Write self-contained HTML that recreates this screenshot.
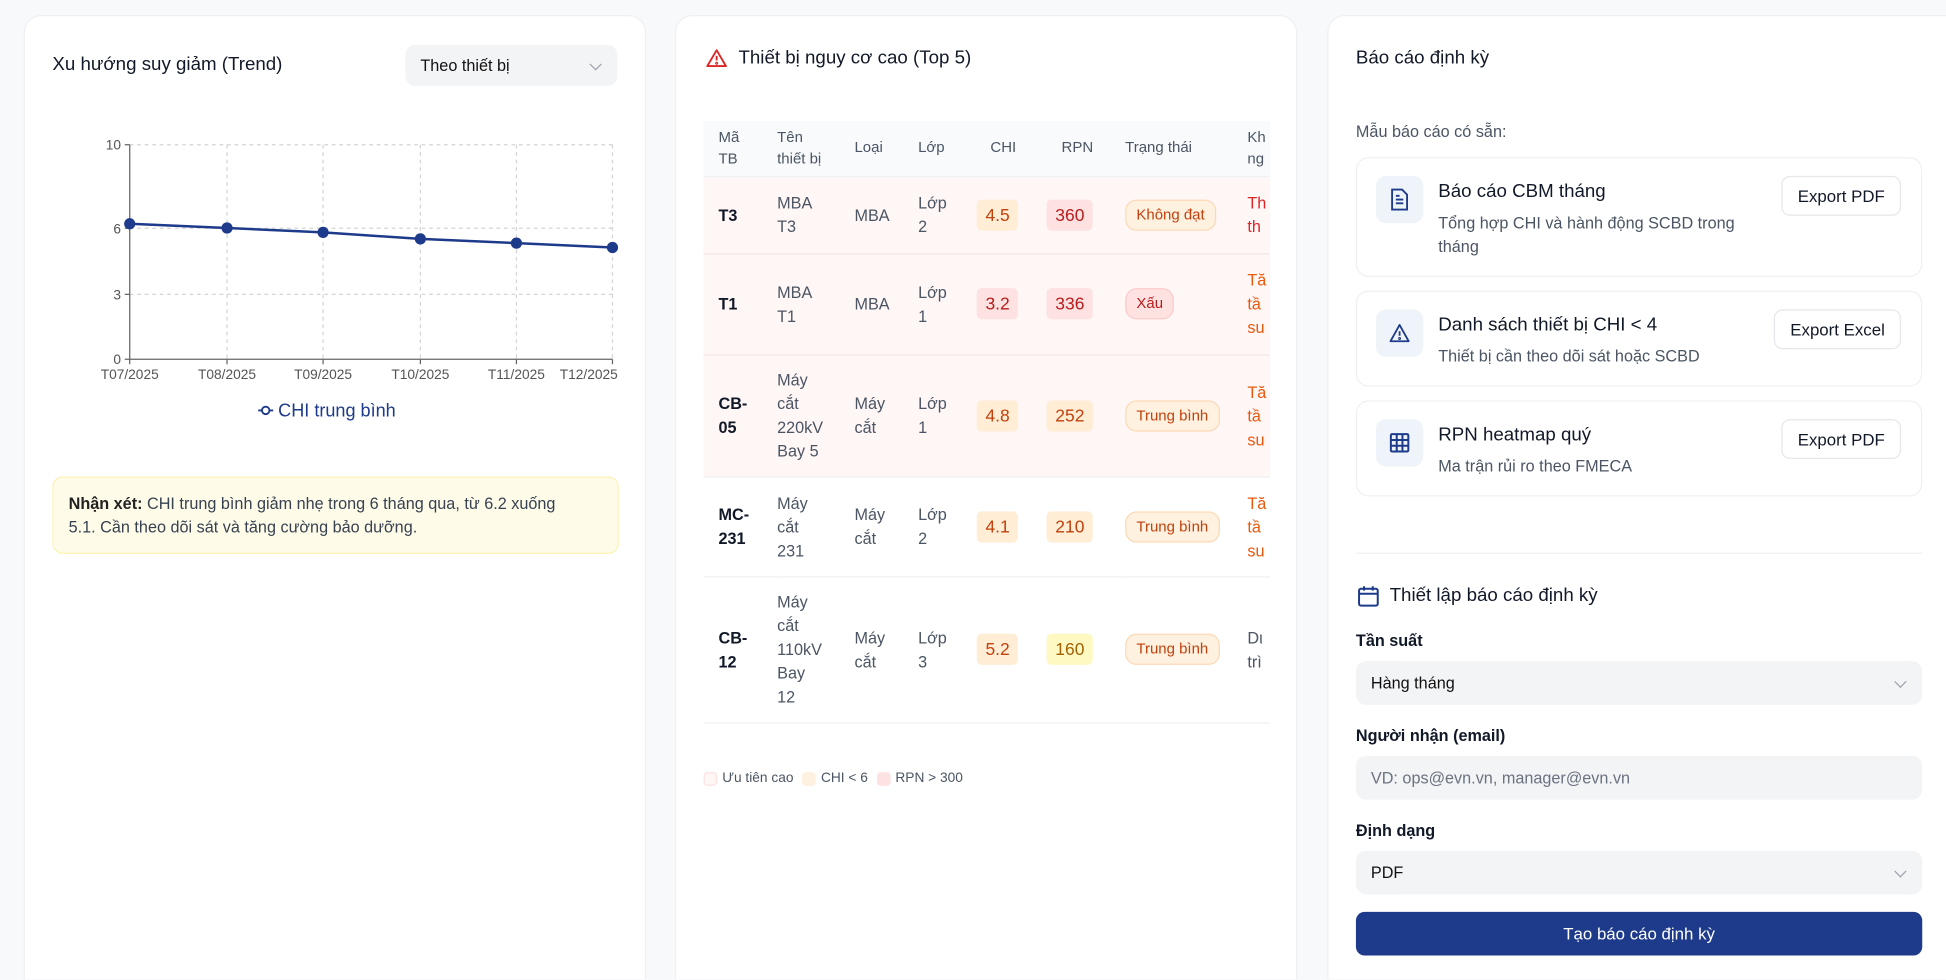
<!DOCTYPE html>
<html><head><meta charset="utf-8"><style>
*{box-sizing:border-box;margin:0;padding:0}
html,body{width:1946px;height:980px;overflow:hidden;background:#f8f9fb;font-family:"Liberation Sans","DejaVu Sans",sans-serif;color:#111827}
#w{position:absolute;left:0;top:0;width:1560px;height:785px;overflow:hidden;transform:scale(1.2474);transform-origin:0 0}
.card{position:absolute;top:12px;height:790px;background:#fff;border:1px solid #eef0f3;border-radius:14px}
.abs{position:absolute}
.sel{position:absolute;background:#f3f4f6;border-radius:8px;font-size:13px;color:#111;padding-left:12px;display:flex;align-items:center}
.chev{position:absolute;right:14px;top:50%;width:7px;height:7px;border-right:1.2px solid #9ca3af;border-bottom:1.2px solid #9ca3af;transform:translateY(-70%) rotate(45deg)}
table{border-collapse:collapse;font-size:13px;line-height:19px}
td,th{text-align:left;vertical-align:middle;padding:0}
th{font-weight:normal;color:#4b5563;font-size:12px;line-height:17px}
.pill{display:inline-block;padding:3px 7px;border-radius:4px;font-size:14px}
.st{display:inline-block;padding:2px 8px;border-radius:9px;font-size:12px;border:1px solid #fcd9b6;background:#fff1e0;color:#c2410c}
.item{position:absolute;left:22px;width:454px;border:1px solid #eef0f3;border-radius:10px}
.ic{position:absolute;left:15px;top:14px;width:38px;height:38px;background:#eff4fb;border-radius:8px;display:flex;align-items:center;justify-content:center}
.it{position:absolute;left:65px;font-size:15px;color:#111827}
.id{position:absolute;left:65px;font-size:13px;color:#4b5563;line-height:19px}
.btn{position:absolute;right:16px;height:32px;border:1px solid #e5e7eb;border-radius:7px;font-size:13.5px;display:flex;align-items:center;padding:0 12px;background:#fff}
.lbl{position:absolute;left:22px;font-size:13px;font-weight:bold}
</style></head><body><div id="w">

<div class="card" style="left:19px;width:499px">
 <div class="abs" style="left:22px;top:30px;font-size:15px">Xu hướng suy giảm (Trend)</div>
 <div class="sel" style="left:305px;top:23px;width:170px;height:33px">Theo thiết bị<span class="chev"></span></div>
 <svg class="abs" style="left:0;top:0" width="499" height="340" font-family="Liberation Sans" font-size="11" fill="#555">
  <g stroke="#d4d4d4" stroke-dasharray="3 3">
   <line x1="84" y1="103" x2="471" y2="103"/><line x1="84" y1="170" x2="471" y2="170"/><line x1="84" y1="223" x2="471" y2="223"/>
   <line x1="162" y1="103" x2="162" y2="275"/><line x1="239" y1="103" x2="239" y2="275"/><line x1="317" y1="103" x2="317" y2="275"/><line x1="394" y1="103" x2="394" y2="275"/><line x1="471" y1="103" x2="471" y2="275"/>
  </g>
  <g stroke="#666"><line x1="84" y1="103" x2="84" y2="275"/><line x1="84" y1="275" x2="471" y2="275"/>
   <line x1="80" y1="103" x2="84" y2="103"/><line x1="80" y1="170" x2="84" y2="170"/><line x1="80" y1="223" x2="84" y2="223"/><line x1="80" y1="275" x2="84" y2="275"/>
   <line x1="84" y1="275" x2="84" y2="279"/><line x1="162" y1="275" x2="162" y2="279"/><line x1="239" y1="275" x2="239" y2="279"/><line x1="317" y1="275" x2="317" y2="279"/><line x1="394" y1="275" x2="394" y2="279"/><line x1="471" y1="275" x2="471" y2="279"/></g>
  <g text-anchor="end"><text x="77" y="107">10</text><text x="77" y="174">6</text><text x="77" y="227">3</text><text x="77" y="279">0</text></g>
  <g text-anchor="middle"><text x="84" y="291">T07/2025</text><text x="162" y="291">T08/2025</text><text x="239" y="291">T09/2025</text><text x="317" y="291">T10/2025</text><text x="394" y="291">T11/2025</text><text x="452" y="291">T12/2025</text></g>
  <polyline fill="none" stroke="#1e3a8a" stroke-width="2" points="84,166.4 162,169.8 239,173.3 317,178.5 394,181.9 471,185.4"/>
  <g fill="#1e3a8a"><circle cx="84" cy="166.4" r="4.5"/><circle cx="162" cy="169.8" r="4.5"/><circle cx="239" cy="173.3" r="4.5"/><circle cx="317" cy="178.5" r="4.5"/><circle cx="394" cy="181.9" r="4.5"/><circle cx="471" cy="185.4" r="4.5"/></g>
  <line x1="187" y1="316" x2="199" y2="316" stroke="#1e3a8a" stroke-width="1.5"/><circle cx="193" cy="316" r="3" fill="#fff" stroke="#1e3a8a" stroke-width="1.5"/>
  <text x="203" y="321" font-size="14.5" fill="#1e3a8a">CHI trung bình</text>
 </svg>
 <div class="abs" style="left:22px;top:369px;width:454px;height:62px;background:#fefce8;border:1px solid #fdf3b4;border-radius:8px;font-size:13px;line-height:19px;padding:11px 32px 11px 12px;color:#374151"><b style="font-weight:600;color:#222">Nhận xét:</b> CHI trung bình giảm nhẹ trong 6 tháng qua, từ 6.2 xuống 5.1. Cần theo dõi sát và tăng cường bảo dưỡng.</div>
</div>

<div class="card" style="left:541px;width:499px;overflow:hidden">
 <svg class="abs" style="left:23px;top:25px" width="19" height="18" viewBox="0 0 24 24" fill="none" stroke="#dc2626" stroke-width="2"><path d="M12 3 L22 20 H2 Z" stroke-linejoin="round"/><line x1="12" y1="9" x2="12" y2="14"/><circle cx="12" cy="17" r="0.6"/></svg>
 <div class="abs" style="left:50px;top:25px;font-size:15px">Thiết bị nguy cơ cao (Top 5)</div>
 <div class="abs" style="left:22px;top:84px;width:454px;overflow:hidden">
 <table style="width:540px">
  <colgroup><col style="width:59px"><col style="width:62px"><col style="width:51px"><col style="width:44px"><col style="width:59px"><col style="width:63px"><col style="width:98px"><col></colgroup>
  <tr style="background:#f8fafc;height:44px;border-bottom:1px solid #eef0f3"><th style="padding-left:12px">Mã<br>TB</th><th>Tên<br>thiết bị</th><th>Loại</th><th>Lớp</th><th style="padding-left:14px">CHI</th><th style="padding-left:12px">RPN</th><th>Trạng thái</th><th>Kh<br>ng</th></tr>
  <tr style="background:#fff6f6;height:62px;border-bottom:1px solid #f3e6e6"><td style="padding-left:12px;font-weight:600">T3</td><td style="color:#4b5563">MBA<br>T3</td><td style="color:#4b5563">MBA</td><td style="color:#4b5563">Lớp<br>2</td><td><span class="pill" style="background:#ffedd5;color:#c2410c;margin-left:3px">4.5</span></td><td><span class="pill" style="background:#fee2e2;color:#b91c1c">360</span></td><td><span class="st">Không đạt</span></td><td style="color:#dc2626">Th<br>th</td></tr>
  <tr style="background:#fff6f6;height:81px;border-bottom:1px solid #f3e6e6"><td style="padding-left:12px;font-weight:600">T1</td><td style="color:#4b5563">MBA<br>T1</td><td style="color:#4b5563">MBA</td><td style="color:#4b5563">Lớp<br>1</td><td><span class="pill" style="background:#fee2e2;color:#b91c1c;margin-left:3px">3.2</span></td><td><span class="pill" style="background:#fee2e2;color:#b91c1c">336</span></td><td><span class="st" style="background:#fee2e2;border-color:#fecaca;color:#b91c1c">Xấu</span></td><td style="color:#ea580c">Tă<br>tầ<br>su</td></tr>
  <tr style="background:#fff6f6;height:98px;border-bottom:1px solid #eef0f3"><td style="padding-left:12px;font-weight:600">CB-<br>05</td><td style="color:#4b5563">Máy<br>cắt<br>220kV<br>Bay 5</td><td style="color:#4b5563">Máy<br>cắt</td><td style="color:#4b5563">Lớp<br>1</td><td><span class="pill" style="background:#ffedd5;color:#c2410c;margin-left:3px">4.8</span></td><td><span class="pill" style="background:#ffedd5;color:#c2410c">252</span></td><td><span class="st">Trung bình</span></td><td style="color:#ea580c">Tă<br>tầ<br>su</td></tr>
  <tr style="height:80px;border-bottom:1px solid #eef0f3"><td style="padding-left:12px;font-weight:600">MC-<br>231</td><td style="color:#4b5563">Máy<br>cắt<br>231</td><td style="color:#4b5563">Máy<br>cắt</td><td style="color:#4b5563">Lớp<br>2</td><td><span class="pill" style="background:#ffedd5;color:#c2410c;margin-left:3px">4.1</span></td><td><span class="pill" style="background:#ffedd5;color:#c2410c">210</span></td><td><span class="st">Trung bình</span></td><td style="color:#ea580c">Tă<br>tầ<br>su</td></tr>
  <tr style="height:117px;border-bottom:1px solid #eef0f3"><td style="padding-left:12px;font-weight:600">CB-<br>12</td><td style="color:#4b5563">Máy<br>cắt<br>110kV<br>Bay<br>12</td><td style="color:#4b5563">Máy<br>cắt</td><td style="color:#4b5563">Lớp<br>3</td><td><span class="pill" style="background:#ffedd5;color:#c2410c;margin-left:3px">5.2</span></td><td><span class="pill" style="background:#fef9c3;color:#a16207">160</span></td><td><span class="st">Trung bình</span></td><td style="color:#4b5563">Dι<br>trì</td></tr>
 </table></div>
 <div class="abs" style="left:22px;top:605px;font-size:11px;color:#4b5563;display:flex;align-items:center;gap:4px">
  <span style="width:11px;height:11px;border:1px solid #fde2e2;background:#fff6f6;border-radius:3px"></span>Ưu tiên cao&nbsp;
  <span style="width:11px;height:11px;background:#fff1e0;border-radius:3px"></span>CHI &lt; 6&nbsp;
  <span style="width:11px;height:11px;background:#fde2e2;border-radius:3px"></span>RPN &gt; 300</div>
</div>

<div class="card" style="left:1064px;width:520px">
 <div class="abs" style="left:22px;top:25px;font-size:15px">Báo cáo định kỳ</div>
 <div class="abs" style="left:22px;top:85px;font-size:13px;color:#4b5563">Mẫu báo cáo có sẵn:</div>
 <div class="item" style="top:113px;height:96px">
  <div class="ic"><svg width="16" height="18" viewBox="0 0 16 18" fill="none" stroke="#1e3a8a" stroke-width="1.5"><path d="M2 1h8l4 4v12H2z"/><line x1="5" y1="9" x2="11" y2="9"/><line x1="5" y1="12" x2="11" y2="12"/><line x1="5" y1="6" x2="8" y2="6"/></svg></div>
  <div class="it" style="top:18px">Báo cáo CBM tháng</div>
  <div class="id" style="top:42px;width:270px">Tổng hợp CHI và hành động SCBD trong tháng</div>
  <div class="btn" style="top:14px">Export PDF</div></div>
 <div class="item" style="top:220px;height:77px">
  <div class="ic"><svg width="18" height="16" viewBox="0 0 24 22" fill="none" stroke="#1e3a8a" stroke-width="2"><path d="M12 2 L22 20 H2 Z" stroke-linejoin="round"/><line x1="12" y1="9" x2="12" y2="14"/><circle cx="12" cy="17" r="0.6"/></svg></div>
  <div class="it" style="top:18px">Danh sách thiết bị CHI &lt; 4</div>
  <div class="id" style="top:42px">Thiết bị cần theo dõi sát hoặc SCBD</div>
  <div class="btn" style="top:14px">Export Excel</div></div>
 <div class="item" style="top:308px;height:77px">
  <div class="ic"><svg width="16" height="16" viewBox="0 0 16 16" fill="none" stroke="#1e3a8a" stroke-width="1.6"><rect x="1" y="1" width="14" height="14" rx="1"/><line x1="1" y1="5.7" x2="15" y2="5.7"/><line x1="1" y1="10.3" x2="15" y2="10.3"/><line x1="5.7" y1="1" x2="5.7" y2="15"/><line x1="10.3" y1="1" x2="10.3" y2="15"/></svg></div>
  <div class="it" style="top:18px">RPN heatmap quý</div>
  <div class="id" style="top:42px">Ma trận rủi ro theo FMECA</div>
  <div class="btn" style="top:14px">Export PDF</div></div>
 <div class="abs" style="left:22px;top:430px;width:454px;border-top:1px solid #eef0f3"></div>
 <svg class="abs" style="left:23px;top:456px" width="18" height="18" viewBox="0 0 18 18" fill="none" stroke="#1e3a8a" stroke-width="1.6"><rect x="1.5" y="3" width="15" height="13.5" rx="1.5"/><line x1="1.5" y1="7" x2="16.5" y2="7"/><line x1="5.5" y1="1" x2="5.5" y2="4.5"/><line x1="12.5" y1="1" x2="12.5" y2="4.5"/></svg>
 <div class="abs" style="left:49px;top:456px;font-size:15px">Thiết lập báo cáo định kỳ</div>
 <div class="lbl" style="top:493px">Tần suất</div>
 <div class="sel" style="left:22px;top:517px;width:454px;height:35px">Hàng tháng<span class="chev"></span></div>
 <div class="lbl" style="top:569px">Người nhận (email)</div>
 <div class="sel" style="left:22px;top:593px;width:454px;height:35px;color:#6b7280">VD: ops@evn.vn, manager@evn.vn</div>
 <div class="lbl" style="top:645px">Định dạng</div>
 <div class="sel" style="left:22px;top:669px;width:454px;height:35px">PDF<span class="chev"></span></div>
 <div class="abs" style="left:22px;top:718px;width:454px;height:35px;background:#1e3a8a;border-radius:7px;color:#fff;font-size:13.5px;display:flex;align-items:center;justify-content:center">Tạo báo cáo định kỳ</div>
</div>
</div></body></html>
